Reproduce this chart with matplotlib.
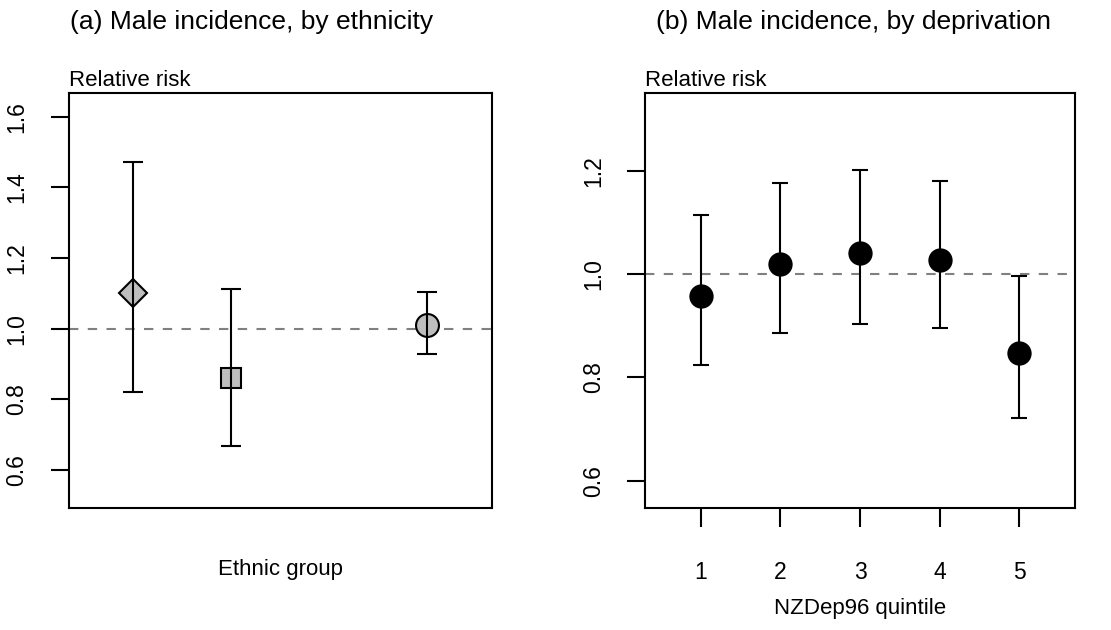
import matplotlib
matplotlib.use("Agg")
import matplotlib.pyplot as plt

plt.rcParams["font.family"] = ["Liberation Sans", "DejaVu Sans"]

# (a) ethnicity
eth_x = [1, 2, 4]
eth_rr = [1.10, 0.861, 1.012]
eth_lo = [0.821, 0.667, 0.930]
eth_hi = [1.473, 1.112, 1.104]
eth_markers = ["D", "s", "o"]
eth_sizes = [14.5, 14.5, 16.5]

# (b) deprivation
dep_x = [1, 2, 3, 4, 5]
dep_rr = [0.957, 1.020, 1.041, 1.028, 0.848]
dep_lo = [0.824, 0.886, 0.904, 0.896, 0.721]
dep_hi = [1.114, 1.176, 1.201, 1.180, 0.997]
dep_ticks = ["1", "2", "3", "4", "5"]

fig = plt.figure(figsize=(11.11, 6.30), dpi=100)
ax1 = fig.add_axes([0.0617, 0.1937, 0.3811, 0.6579])
ax2 = fig.add_axes([0.5806, 0.1937, 0.3870, 0.6579])

lw = 1.5
grey = "#bebebe"


def style(ax):
    for s in ax.spines.values():
        s.set_linewidth(lw)
    ax.tick_params(axis="y", length=13, width=lw, pad=16, labelsize=16.5,
                   labelrotation=90)
    for lab in ax.get_yticklabels():
        lab.set_va("center")
    ax.axhline(1.0, color="#808080", lw=lw, ls=(0, (4.5, 4.5)), zorder=1)
    ax.annotate("Relative risk", xy=(0, 1), xycoords="axes fraction",
                xytext=(0, 5.5), textcoords="offset points",
                ha="left", va="baseline", fontsize=16)


# panel (a)
for x, y, m, ms in zip(eth_x, eth_rr, eth_markers, eth_sizes):
    ax1.plot([x], [y], marker=m, ms=ms, mfc=grey, mec="black", mew=lw,
             ls="none", zorder=2)
ax1.errorbar(eth_x, eth_rr,
             yerr=[[r - l for r, l in zip(eth_rr, eth_lo)],
                   [h - r for r, h in zip(eth_rr, eth_hi)]],
             fmt="none", ecolor="black", elinewidth=lw, capsize=7.5,
             capthick=lw, zorder=3)
ax1.set_xlim(0.34, 4.66)
ax1.set_ylim(0.493, 1.666)
ax1.set_yticks([0.6, 0.8, 1.0, 1.2, 1.4, 1.6])
ax1.set_xticks([])
style(ax1)
ax1.text(0.5, -0.1495, "Ethnic group", transform=ax1.transAxes,
         ha="center", va="center", fontsize=16)

# panel (b)
ax2.errorbar(dep_x, dep_rr,
             yerr=[[r - l for r, l in zip(dep_rr, dep_lo)],
                   [h - r for r, h in zip(dep_rr, dep_hi)]],
             fmt="none", ecolor="black", elinewidth=lw, capsize=6,
             capthick=lw, zorder=3)
ax2.plot(dep_x, dep_rr, marker="o", ms=17.5, mfc="black", mec="black",
         mew=0, ls="none", zorder=2)
ax2.set_xlim(0.3, 5.7)
ax2.set_ylim(0.547, 1.35)
ax2.set_yticks([0.6, 0.8, 1.0, 1.2])
ax2.set_xticks(dep_x)
ax2.set_xticklabels(dep_ticks)
ax2.tick_params(axis="x", length=14, width=lw, pad=24, labelsize=16.5)
style(ax2)
ax2.text(0.5, -0.2415, "NZDep96 quintile", transform=ax2.transAxes,
         ha="center", va="center", fontsize=16)

fig.text(70 / 1111, 1 - 29 / 630, "(a) Male incidence, by ethnicity",
         ha="left", va="baseline", fontsize=19)
fig.text(656 / 1111, 1 - 29 / 630, "(b) Male incidence, by deprivation",
         ha="left", va="baseline", fontsize=19)

fig.savefig("out.png", dpi=100)
